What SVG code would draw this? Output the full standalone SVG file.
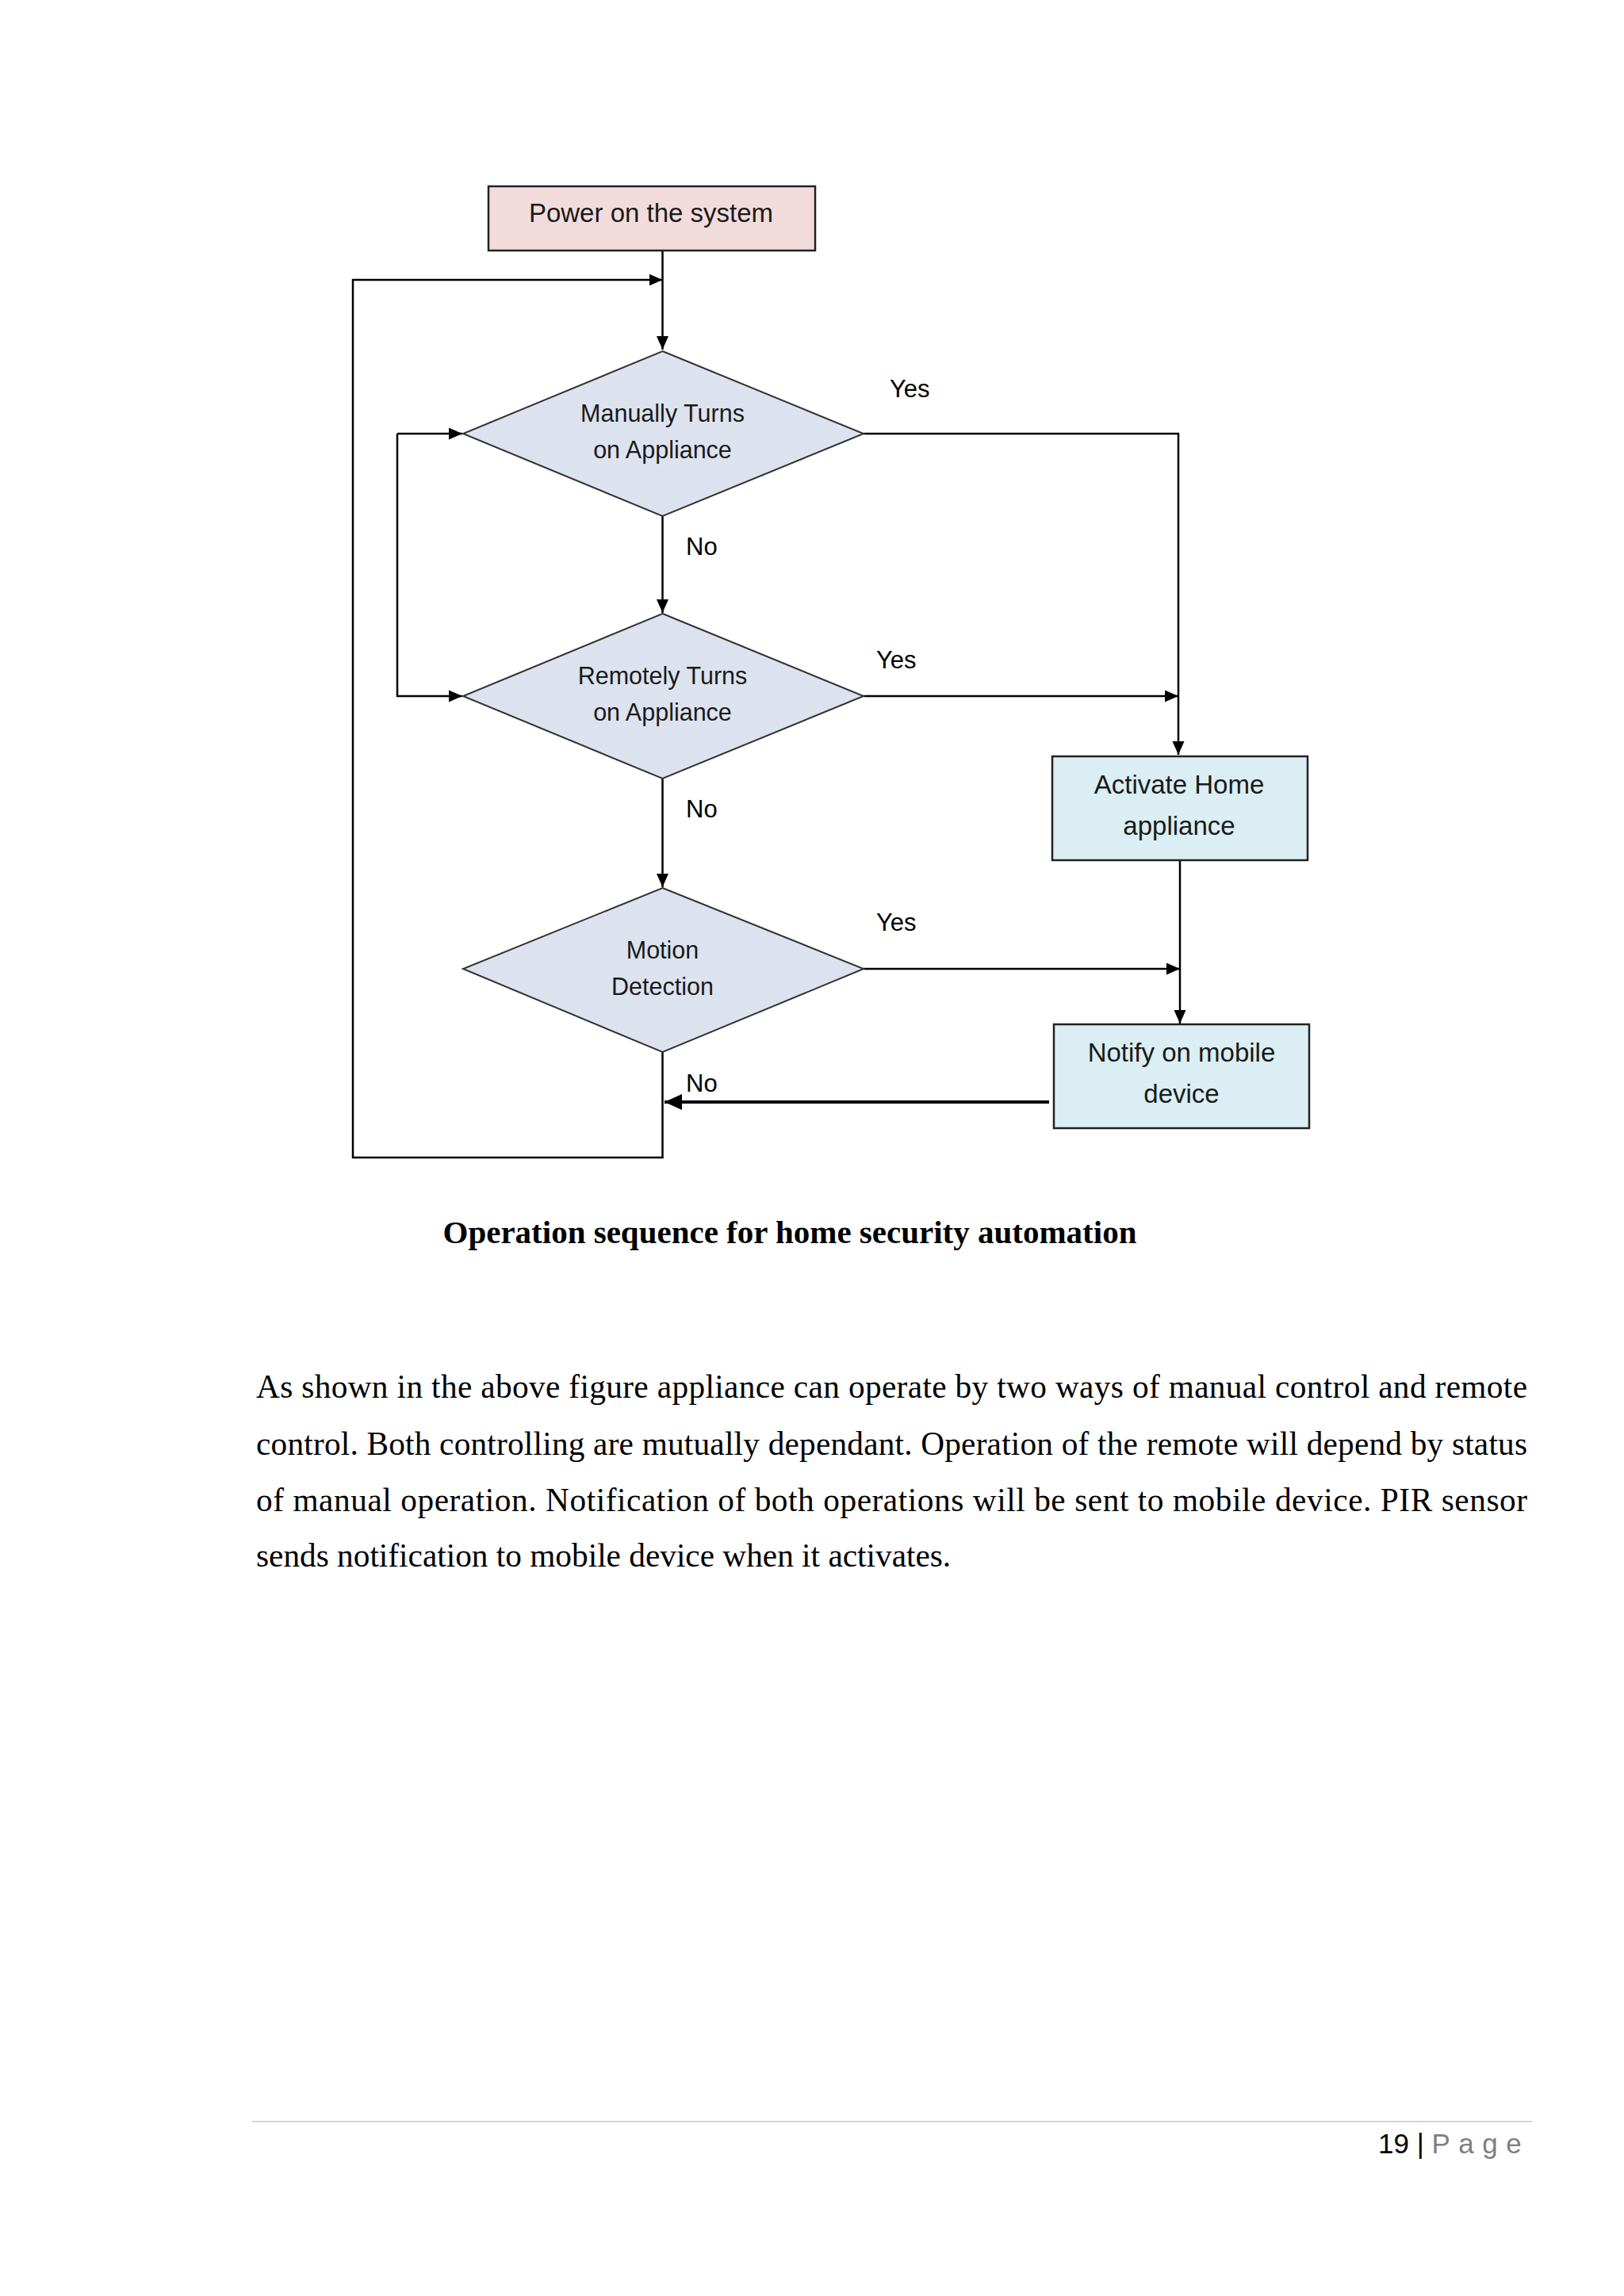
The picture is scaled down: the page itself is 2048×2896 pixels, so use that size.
<svg xmlns="http://www.w3.org/2000/svg" width="2048" height="2896" viewBox="0 0 2048 2896">
<style>
.bg{fill:#ffffff}
.node-text{font-family:"Liberation Sans",Arial,sans-serif;fill:#1a1a1a;text-anchor:middle}
.rect-t{font-size:33px}
.dia-t{font-size:30.5px}
.lbl{font-family:"Liberation Sans",Arial,sans-serif;font-size:31px;fill:#000}
.box{stroke:#222;stroke-width:2.5}
.dia{fill:#dce3ef;stroke:#333;stroke-width:2}
.conn{fill:none;stroke:#000;stroke-width:2.5}
.thick{stroke-width:4}
.cap{font-family:"Liberation Serif","Times New Roman",serif;font-weight:bold;font-size:41px;fill:#000;text-anchor:middle}
.para{font-family:"Liberation Serif","Times New Roman",serif;font-size:41.3px;fill:#000}
.pg{font-family:"Liberation Sans",Arial,sans-serif;font-size:35px}
</style>
<defs>
<marker id="arr" markerUnits="userSpaceOnUse" markerWidth="20" markerHeight="18" refX="17" refY="9" orient="auto">
<path d="M0,1.5 L17,9 L0,16.5 Z" fill="#000"/>
</marker>
<marker id="arrB" markerUnits="userSpaceOnUse" markerWidth="24" markerHeight="22" refX="22" refY="11" orient="auto">
<path d="M0,1 L22,11 L0,21 Z" fill="#000"/>
</marker>
</defs>
<rect class="bg" x="0" y="0" width="2048" height="2896"/>

<g id="connectors">
<path class="conn" d="M835.5,316 L835.5,441" marker-end="url(#arr)"/>
<path class="conn" d="M835.5,1327 L835.5,1460 L445,1460 L445,353 L835.5,353" marker-end="url(#arr)"/>
<path class="conn" d="M501,547 L583,547" marker-end="url(#arr)"/>
<path class="conn" d="M501,547 L501,878 L583,878" marker-end="url(#arr)"/>
<path class="conn" d="M1089,547 L1486,547 L1486,952" marker-end="url(#arr)"/>
<path class="conn" d="M835.5,651 L835.5,773" marker-end="url(#arr)"/>
<path class="conn" d="M1089,878 L1486,878" marker-end="url(#arr)"/>
<path class="conn" d="M835.5,982 L835.5,1119" marker-end="url(#arr)"/>
<path class="conn" d="M1488,1085 L1488,1291" marker-end="url(#arr)"/>
<path class="conn" d="M1089,1222 L1488,1222" marker-end="url(#arr)"/>
<path class="conn thick" d="M1323,1390 L838,1390" marker-end="url(#arrB)"/>
<text class="lbl" x="1122" y="501">Yes</text>
<text class="lbl" x="865" y="700">No</text>
<text class="lbl" x="1105" y="843">Yes</text>
<text class="lbl" x="865" y="1031">No</text>
<text class="lbl" x="1105" y="1174">Yes</text>
<text class="lbl" x="865" y="1377">No</text>
</g>

<g id="power">
<rect class="box" x="616" y="235" width="412" height="81" fill="#f2dcdb"/>
<text class="node-text rect-t" x="821" y="280">Power on the system</text>
</g>

<g id="manual">
<polygon class="dia" points="835.5,443 1089,547 835.5,651 584,547"/>
<text class="node-text dia-t" x="835.5" y="532">Manually Turns</text>
<text class="node-text dia-t" x="835.5" y="578">on Appliance</text>
</g>

<g id="remote">
<polygon class="dia" points="835.5,774 1089,878 835.5,982 584,878"/>
<text class="node-text dia-t" x="835.5" y="863">Remotely Turns</text>
<text class="node-text dia-t" x="835.5" y="909">on Appliance</text>
</g>

<g id="motion">
<polygon class="dia" points="835.5,1120 1089,1222 835.5,1327 584,1222"/>
<text class="node-text dia-t" x="835.5" y="1209">Motion</text>
<text class="node-text dia-t" x="835.5" y="1255">Detection</text>
</g>

<g id="activate">
<rect class="box" x="1327" y="954" width="322" height="131" fill="#daeef3"/>
<text class="node-text rect-t" x="1487" y="1001">Activate Home</text>
<text class="node-text rect-t" x="1487" y="1053">appliance</text>
</g>

<g id="notify">
<rect class="box" x="1329" y="1292" width="322" height="131" fill="#daeef3"/>
<text class="node-text rect-t" x="1490" y="1339">Notify on mobile</text>
<text class="node-text rect-t" x="1490" y="1391">device</text>
</g>

<text class="cap" x="996" y="1568">Operation sequence for home security automation</text>

<text class="para" x="323" y="1763" textLength="1603" lengthAdjust="spacing">As shown in the above figure appliance can operate by two ways of manual control and remote</text>
<text class="para" x="323" y="1835" textLength="1603" lengthAdjust="spacing">control. Both controlling are mutually dependant. Operation of the remote will depend by status</text>
<text class="para" x="323" y="1906" textLength="1603" lengthAdjust="spacing">of manual operation. Notification of both operations will be sent to mobile device. PIR sensor</text>
<text class="para" x="323" y="1976">sends notification to mobile device when it activates.</text>

<line x1="318" y1="2676" x2="1932" y2="2676" stroke="#d4d4d4" stroke-width="2"/>
<text class="pg" x="1738" y="2716"><tspan fill="#000">19 | </tspan><tspan fill="#7f7f7f" letter-spacing="10.5">Page</tspan></text>
</svg>
